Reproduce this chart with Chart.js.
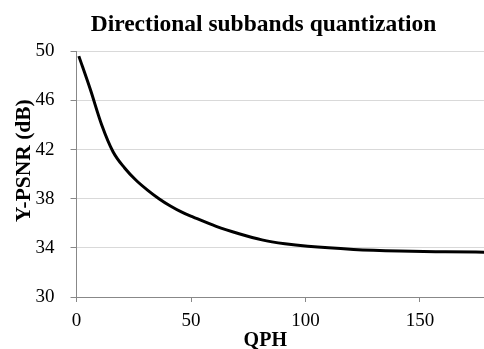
<!DOCTYPE html>
<html>
<head>
<meta charset="utf-8">
<script src="https://cdn.jsdelivr.net/npm/chart.js@4/dist/chart.umd.min.js"></script>
<style>
  html, body { margin: 0; padding: 0; background: #fff; overflow: hidden; }
  #box { width: 484px; height: 349px; }
</style>
</head>
<body>
<div id="box"><canvas id="graph" width="484" height="349"></canvas></div>
<script>
// DATA
const qph  = [1, 6, 11, 16, 21, 26, 31, 36, 41, 46, 51, 61, 71, 81, 91, 101, 121, 141, 161, 181];
const psnr = [49.6, 46.9, 44.0, 41.8, 40.5, 39.5, 38.7, 38.0, 37.4, 36.9, 36.5, 35.75, 35.15, 34.65, 34.33, 34.12, 33.87, 33.74, 33.68, 33.64];
const xTicks = [0, 50, 100, 150];
const yTicks = [30, 34, 38, 42, 46, 50];

const titleText = 'Directional subbands quantization';
const xTitle = 'QPH';
const yTitle = 'Y-PSNR (dB)';

const serif = "'Liberation Serif', 'Times New Roman', serif";

// build points
let points = [];
for (let i = 0; i < qph.length; i++) {
    points.push({x: qph[i], y: psnr[i]});
}

// move the title a bit right, like the original
const shiftTitle = {
    id: 'shiftTitle',
    afterLayout(chart) {
        if (chart.titleBlock) {
            chart.titleBlock.left += 36;
        }
    }
};

let ctx = document.getElementById('graph').getContext('2d');
let graph = new Chart(ctx, {
    type: 'line',
    data: {
        datasets: [{
            data: points,
            borderColor: '#000',
            borderWidth: 3,
            pointRadius: 0,
            fill: false,
            cubicInterpolationMode: 'monotone'
        }]
    },
    plugins: [shiftTitle],
    options: {
        responsive: false,
        animation: false,
        layout: { padding: { left: 7, right: 0, top: 0, bottom: 0 } },
        plugins: {
            legend: { display: false },
            tooltip: { enabled: false },
            title: {
                display: true,
                text: titleText,
                color: '#000',
                font: { family: serif, size: 23.5, weight: 'bold' },
                padding: { top: 11, bottom: 12 }
            }
        },
        scales: {
            x: {
                type: 'linear',
                min: 0,
                max: 178,
                afterBuildTicks: (scale) => { scale.ticks = xTicks.map(v => ({value: v})); },
                ticks: {
                    color: '#000',
                    font: { family: serif, size: 19 },
                    padding: 7.5,
                    maxRotation: 0
                },
                grid: {
                    drawOnChartArea: false,
                    color: '#888',
                    tickLength: 5
                },
                border: { color: '#888', width: 1 },
                title: {
                    display: true,
                    text: xTitle + '      ',
                    color: '#000',
                    font: { family: serif, size: 20, weight: 'bold', lineHeight: 1 },
                    padding: { top: -8.8, bottom: -2 }
                }
            },
            y: {
                min: 30,
                max: 50,
                afterBuildTicks: (scale) => { scale.ticks = yTicks.map(v => ({value: v})); },
                ticks: {
                    color: '#000',
                    font: { family: serif, size: 19 },
                    padding: 16
                },
                grid: {
                    color: '#d9d9d9',
                    tickColor: '#888',
                    tickLength: 6
                },
                border: { color: '#888', width: 1 },
                title: {
                    display: true,
                    text: '     ' + yTitle,
                    color: '#000',
                    font: { family: serif, size: 21.5, weight: 'bold', lineHeight: 1.1 },
                    padding: { top: 5.5, bottom: -16.6 }
                }
            }
        }
    }
});
</script>
</body>
</html>
